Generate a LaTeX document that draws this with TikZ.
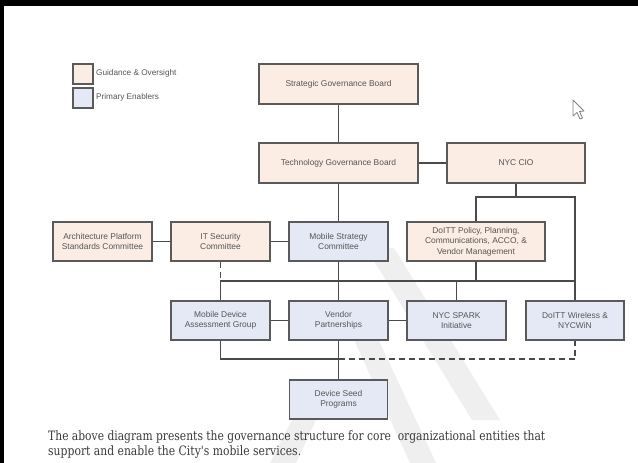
\documentclass[tikz,border=0pt]{standalone}
\usepackage{fontspec}
\setmainfont{Liberation Sans}
\newfontfamily\capfont{DejaVu Serif}
\definecolor{peach}{HTML}{FBEDE3}
\definecolor{lblue}{HTML}{E5E9F5}
\definecolor{boxline}{HTML}{5A5A5A}
\definecolor{lineC}{HTML}{4A4A4A}
\definecolor{txt}{HTML}{555555}
\definecolor{captxt}{HTML}{3A3A3A}
\definecolor{wmark}{HTML}{EFEFEF}
\begin{document}
\begin{tikzpicture}[x=1pt,y=-1pt,
  box/.style={draw=boxline, line width=1.3pt, inner sep=0pt, text=txt, align=center,
    font=\fontsize{8.4}{10.5}\selectfont, minimum height=39pt},
  guide/.style={box, fill=peach},
  enab/.style={box, fill=lblue},
  conn/.style={draw=lineC, line width=1.1pt},
  dconn/.style={conn, dashed, dash pattern=on 6pt off 4pt},
  legtext/.style={anchor=west, text=txt, font=\fontsize{8.2}{9}\selectfont, inner sep=0pt}
]
\useasboundingbox (0,0) rectangle (638,463);
\fill[white] (0,0) rectangle (638,463);
% watermark
\fill[wmark] (366,248) -- (394,248) -- (500,420) -- (472,420) -- cycle;
\fill[wmark] (336,300) -- (360,300) -- (436,463) -- (410,463) -- cycle;
\fill[wmark] (270,463) -- (306,392) -- (326,398) -- (296,463) -- cycle;
% black edges
\fill[black] (0,0) rectangle (638,6);
\fill[black] (0,0) rectangle (4,463);

% legend
\node[guide, minimum width=20pt, minimum height=20pt] (lg1) at (83,74) {};
\node[enab, minimum width=20pt, minimum height=20pt] (lg2) at (83,98) {};
\node[legtext] (lt1) at (96,73.5) {Guidance \& Oversight};
\node[legtext] (lt2) at (96,97.5) {Primary Enablers};

% boxes
\node[guide, minimum width=159pt, minimum height=40pt] (sgb) at (338.5,84) {Strategic Governance Board};
\node[guide, minimum width=159pt, minimum height=40pt] (tgb) at (338.5,163) {Technology Governance Board};
\node[guide, minimum width=138pt, minimum height=40pt] (cio) at (516,163) {NYC CIO};
\node[guide, minimum width=99pt] (arch) at (102.5,241.5) {Architecture Platform\\Standards Committee};
\node[guide, minimum width=99pt] (its) at (220.5,241.5) {IT Security\\Committee};
\node[enab, minimum width=99pt] (msc) at (338.5,241.5) {Mobile Strategy\\Committee};
\node[guide, minimum width=138pt] (dpp) at (476,241.5) {DoITT Policy, Planning,\\Communications, ACCO, \&\\Vendor Management};
\node[enab, minimum width=99pt] (mdag) at (220.5,320.5) {Mobile Device\\Assessment Group};
\node[enab, minimum width=99pt] (vp) at (338.5,320.5) {Vendor\\Partnerships};
\node[enab, minimum width=99pt] (spark) at (456.5,320.5) {NYC SPARK\\Initiative};
\node[enab, minimum width=98pt] (dw) at (575,320.5) {DoITT Wireless \&\\NYCWiN};
\node[enab, minimum width=98pt] (dsp) at (338.5,399.5) {Device Seed\\Programs};

% helper coordinates
\coordinate (bus1) at (0,197);
\coordinate (bus2) at (0,281);
\coordinate (bus3) at (0,359);

% connectors
\draw[conn] (sgb) -- (tgb);
\draw[conn] (tgb) -- (cio);
\draw[conn] (tgb) -- (msc);
\draw[conn] (arch) -- (its);
\draw[conn] (its) -- (msc);
\draw[conn] (cio.south) -- (cio.south |- bus1);
\draw[conn] (dpp.north) -- (dpp.north |- bus1) -- (dw.north |- bus1) -- (dw.north);
\draw[conn] (msc) -- (vp);
\draw[conn] (dpp.south) -- (dpp.south |- bus2);
\draw[conn] (mdag.north) -- (mdag.north |- bus2) -- (dw.north |- bus2);
\draw[conn] (spark.north) -- (spark.north |- bus2);
\draw[dconn] (its.south) -- (its.south |- bus2);
\draw[conn] (mdag) -- (vp);
\draw[conn] (vp) -- (spark);
\draw[conn] (vp) -- (dsp);
\draw[conn] (mdag.south) -- (mdag.south |- bus3) -- (vp.south |- bus3);
\draw[dconn] (vp.south |- bus3) -- (dw.south |- bus3) -- (dw.south);

% cursor
\filldraw[draw=gray, fill=white, line width=0.8pt, line join=round]
  (573,100) -- (573,116) -- (577,112.5) -- (580,119) -- (582.5,118) -- (579.5,111.5) -- (584,111) -- cycle;

% caption
\node[anchor=base west, inner sep=0pt, text=captxt] (cap1) at (48,440)
  {\resizebox{497pt}{9.8pt}{\capfont The above diagram presents the governance structure for core~ organizational entities that}};
\node[anchor=base west, inner sep=0pt, text=captxt] (cap2) at (48,455)
  {\resizebox{253pt}{9.8pt}{\capfont support and enable the City's mobile services.}};
\end{tikzpicture}
\end{document}
